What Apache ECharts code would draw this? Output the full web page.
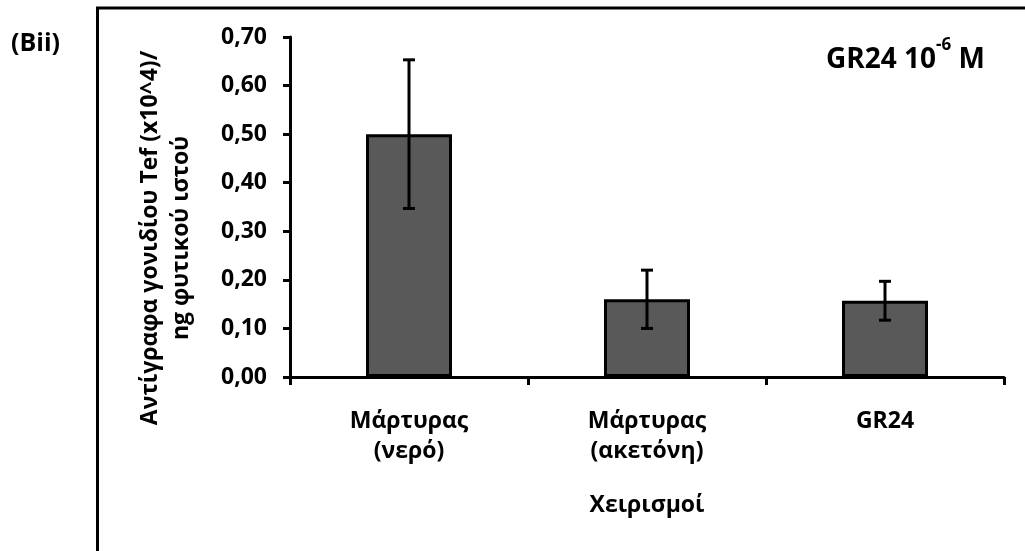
<!DOCTYPE html>
<html>
<head>
<meta charset="utf-8">
<script src="https://cdn.jsdelivr.net/npm/echarts@6/dist/echarts.min.js"></script>
<style>
  html, body { margin: 0; padding: 0; background: #ffffff; }
  #chart { width: 1025px; height: 551px; }
</style>
</head>
<body>
<div id="chart"></div>
<script>
// Tef gene copies per ng of plant tissue, by treatment
const categories = ['Μάρτυρας\n(νερό)', 'Μάρτυρας\n(ακετόνη)', 'GR24'];
const means = [0.50, 0.16, 0.157];
const errors = [0.153, 0.06, 0.04];
const yTicks = [0, 0.1, 0.2, 0.3, 0.4, 0.5, 0.6, 0.7];

const FONT = '"Open Sans", "DejaVu Sans", sans-serif';

const chart = echarts.init(document.getElementById('chart'), null, { renderer: 'canvas' });

const errorData = means.map((m, i) => [i, m - errors[i], m + errors[i]]);

chart.setOption({
  animation: false,
  backgroundColor: '#ffffff',
  grid: { left: 290, right: 21, top: 37, bottom: 174, containLabel: false },
  xAxis: {
    type: 'category',
    data: categories,
    boundaryGap: true,
    axisLine: { lineStyle: { color: '#000', width: 3 } },
    axisTick: { show: true, length: 8, inside: false, interval: 0, lineStyle: { color: '#000', width: 3 } },
    axisLabel: {
      interval: 0, margin: 29, color: '#000',
      fontFamily: FONT, fontWeight: 'bold', fontSize: 23, lineHeight: 30, align: 'center'
    },
    splitLine: { show: false }
  },
  yAxis: {
    type: 'value',
    min: yTicks[0],
    max: yTicks[yTicks.length - 1],
    interval: 0.1,
    axisLine: { show: true, lineStyle: { color: '#000', width: 3 } },
    axisTick: { show: true, length: 7, inside: false, lineStyle: { color: '#000', width: 3 } },
    axisLabel: {
      margin: 23, color: '#000',
      fontFamily: FONT, fontWeight: 'bold', fontSize: 23,
      formatter: v => v.toFixed(2).replace('.', ',')
    },
    splitLine: { show: false }
  },
  series: [
    {
      type: 'bar',
      data: means,
      barWidth: 86,
      itemStyle: { color: '#595959', borderColor: '#000', borderWidth: 3 },
      z: 2
    },
    {
      type: 'custom',
      data: errorData,
      z: 5,
      renderItem: (params, api) => {
        const x = api.coord([api.value(0), api.value(1)])[0];
        const yLow = api.coord([api.value(0), api.value(1)])[1];
        const yHigh = api.coord([api.value(0), api.value(2)])[1];
        const half = 6;
        const style = { stroke: '#000', lineWidth: 3 };
        return {
          type: 'group',
          children: [
            { type: 'line', shape: { x1: x, y1: yHigh, x2: x, y2: yLow }, style },
            { type: 'line', shape: { x1: x - half, y1: yHigh, x2: x + half, y2: yHigh }, style },
            { type: 'line', shape: { x1: x - half, y1: yLow, x2: x + half, y2: yLow }, style }
          ]
        };
      }
    }
  ],
  graphic: [
    // panel frame (left and top edges)
    { type: 'line', shape: { x1: 97.5, y1: 8, x2: 97.5, y2: 551 }, style: { stroke: '#000', lineWidth: 3 } },
    { type: 'line', shape: { x1: 96, y1: 8, x2: 1025, y2: 8 }, style: { stroke: '#000', lineWidth: 3 } },
    // panel label
    {
      type: 'text', x: 11, y: 44,
      style: { text: '(Bii)', fill: '#000', font: 'bold 25px ' + FONT, verticalAlign: 'middle' }
    },
    // condition annotation
    {
      type: 'text', x: 826, y: 37,
      style: {
        text: '{a|GR24 10}{s|-6}{a| M}',
        fill: '#000',
        rich: {
          a: { fontFamily: FONT, fontWeight: 'bold', fontSize: 28, lineHeight: 37, verticalAlign: 'bottom', fill: '#000' },
          s: { fontFamily: FONT, fontWeight: 'bold', fontSize: 17, lineHeight: 37, verticalAlign: 'top', fill: '#000' }
        }
      }
    },
    // y-axis title
    {
      type: 'text', x: 166, y: 238, rotation: Math.PI / 2,
      style: {
        text: 'Αντίγραφα γονιδίου Tef (x10^4)/\nng φυτικού ιστού',
        fill: '#000', font: 'bold 23px ' + FONT, lineHeight: 31,
        align: 'center', verticalAlign: 'middle'
      }
    },
    // x-axis title
    {
      type: 'text', x: 647, y: 505,
      style: {
        text: 'Χειρισμοί', fill: '#000', font: 'bold 23px ' + FONT,
        align: 'center', verticalAlign: 'middle'
      }
    }
  ]
});
</script>
</body>
</html>
